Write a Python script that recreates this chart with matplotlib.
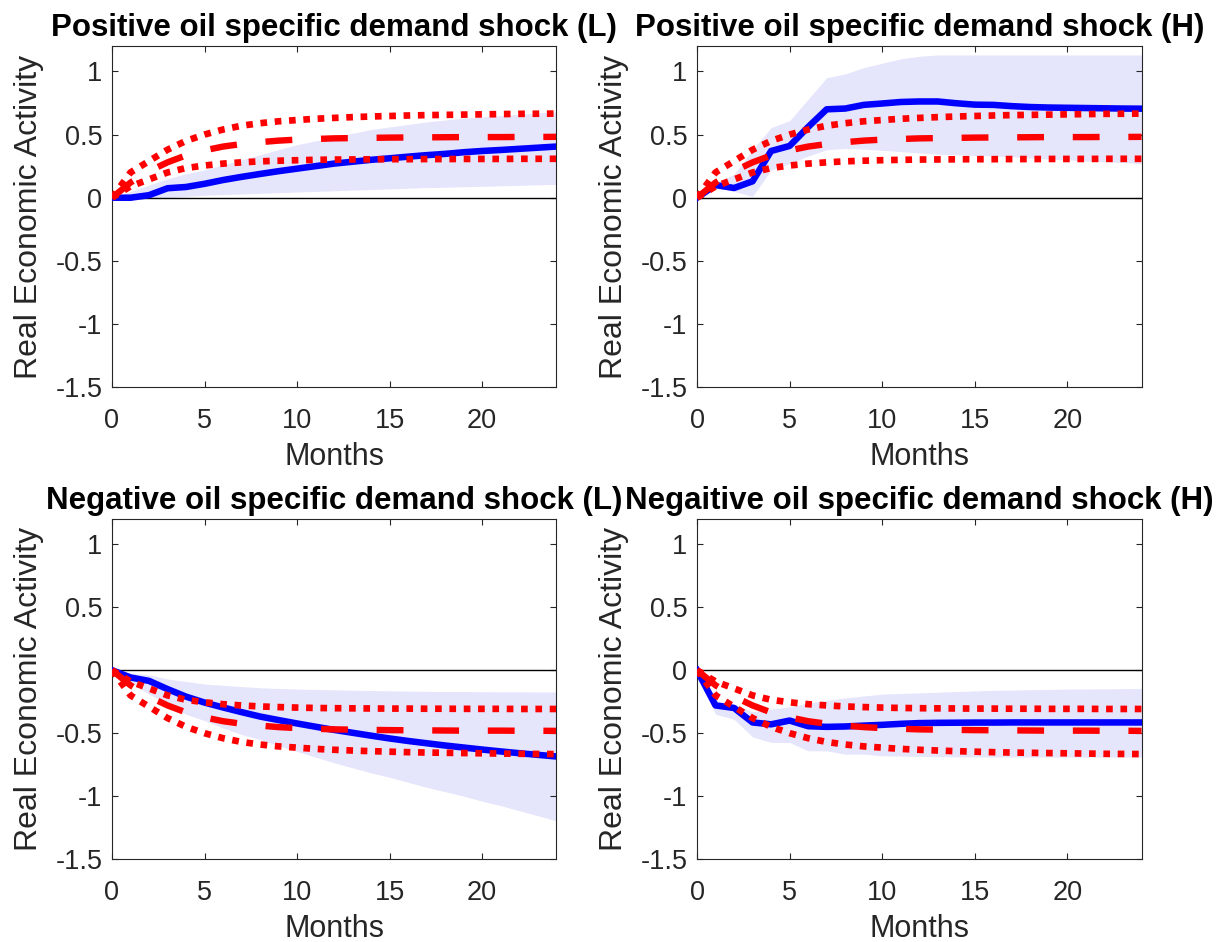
import numpy as np
import matplotlib
matplotlib.use('Agg')
import matplotlib.pyplot as plt

plt.rcParams['font.family'] = ['Liberation Sans', 'DejaVu Sans']

months = np.arange(25)

# linear benchmark (median and bands), same size for +/- shocks
red_med = [0, 0.12, 0.21, 0.28, 0.335, 0.375, 0.405, 0.425, 0.44, 0.452, 0.46, 0.465, 0.47,
           0.472, 0.474, 0.476, 0.477, 0.478, 0.479, 0.48, 0.48, 0.48, 0.481, 0.481, 0.482]
red_hi = [0, 0.20, 0.29, 0.38, 0.45, 0.50, 0.54, 0.57, 0.59, 0.605, 0.615, 0.625, 0.632,
          0.638, 0.643, 0.647, 0.651, 0.654, 0.656, 0.658, 0.66, 0.662, 0.664, 0.665, 0.666]
red_lo = [0, 0.09, 0.145, 0.20, 0.235, 0.255, 0.27, 0.28, 0.288, 0.293, 0.297, 0.30, 0.302,
          0.303, 0.304, 0.305, 0.305, 0.306, 0.306, 0.307, 0.307, 0.307, 0.308, 0.308, 0.308]

# positive shock, low regime
pl_resp = [0, 0.0, 0.02, 0.075, 0.085, 0.11, 0.14, 0.165, 0.188, 0.21, 0.23, 0.25, 0.27,
           0.285, 0.30, 0.312, 0.325, 0.337, 0.347, 0.36, 0.37, 0.378, 0.387, 0.396, 0.405]
pl_up = [0, 0.05, 0.10, 0.15, 0.19, 0.22, 0.26, 0.30, 0.34, 0.38, 0.42, 0.45, 0.48,
         0.51, 0.54, 0.56, 0.58, 0.60, 0.615, 0.63, 0.64, 0.65, 0.66, 0.67, 0.68]
pl_dn = [0, -0.01, -0.005, 0.0, 0.01, 0.02, 0.025, 0.03, 0.035, 0.04, 0.045, 0.05, 0.055,
         0.06, 0.065, 0.07, 0.075, 0.08, 0.083, 0.087, 0.09, 0.094, 0.098, 0.102, 0.106]

# positive shock, high regime
ph_resp = [0, 0.10, 0.077, 0.13, 0.37, 0.41, 0.56, 0.70, 0.706, 0.735, 0.746, 0.758, 0.762,
           0.762, 0.748, 0.737, 0.735, 0.725, 0.718, 0.714, 0.712, 0.71, 0.708, 0.706, 0.705]
ph_up = [0, 0.12, 0.185, 0.38, 0.555, 0.61, 0.78, 0.95, 0.98, 1.03, 1.065, 1.10, 1.12,
         1.13, 1.13, 1.13, 1.13, 1.13, 1.13, 1.13, 1.13, 1.13, 1.13, 1.13, 1.13]
ph_dn = [0, 0.08, 0.05, 0.01, 0.22, 0.27, 0.33, 0.38, 0.39, 0.385, 0.375, 0.365, 0.355,
         0.345, 0.34, 0.335, 0.33, 0.325, 0.315, 0.305, 0.30, 0.29, 0.285, 0.278, 0.27]

# negative shock, low regime
nl_resp = [0, -0.058, -0.085, -0.15, -0.21, -0.257, -0.296, -0.333, -0.368, -0.396, -0.423,
           -0.449, -0.474, -0.497, -0.52, -0.542, -0.562, -0.58, -0.598, -0.614, -0.63,
           -0.645, -0.659, -0.672, -0.685]
nl_up = [0, -0.024, -0.037, -0.07, -0.09, -0.11, -0.12, -0.13, -0.14, -0.145, -0.15, -0.153,
         -0.156, -0.159, -0.162, -0.164, -0.166, -0.168, -0.17, -0.17, -0.171, -0.172,
         -0.172, -0.173, -0.173]
nl_dn = [0, -0.10, -0.19, -0.27, -0.35, -0.40, -0.46, -0.51, -0.55, -0.60, -0.645, -0.69,
         -0.735, -0.775, -0.815, -0.85, -0.89, -0.93, -0.965, -1.0, -1.04, -1.075, -1.115,
         -1.155, -1.195]

# negative shock, high regime
nh_resp = [0, -0.28, -0.30, -0.415, -0.43, -0.40, -0.445, -0.45, -0.447, -0.44, -0.434,
           -0.426, -0.42, -0.418, -0.417, -0.416, -0.416, -0.415, -0.415, -0.415, -0.415,
           -0.415, -0.415, -0.415, -0.415]
nh_up = [0, -0.24, -0.27, -0.33, -0.31, -0.29, -0.26, -0.24, -0.22, -0.205, -0.19, -0.185,
         -0.18, -0.175, -0.17, -0.165, -0.16, -0.158, -0.155, -0.153, -0.15, -0.15, -0.148,
         -0.147, -0.145]
nh_dn = [0, -0.35, -0.39, -0.53, -0.574, -0.574, -0.64, -0.64, -0.667, -0.667, -0.68, -0.682,
         -0.685, -0.687, -0.688, -0.689, -0.69, -0.69, -0.69, -0.69, -0.69, -0.69, -0.69,
         -0.69, -0.69]

titles = ['Positive oil specific demand shock (L)', 'Positive oil specific demand shock (H)',
          'Negative oil specific demand shock (L)', 'Negaitive oil specific demand shock (H)']
panels = [(pl_resp, pl_up, pl_dn, 1), (ph_resp, ph_up, ph_dn, 1),
          (nl_resp, nl_up, nl_dn, -1), (nh_resp, nh_up, nh_dn, -1)]

# axes rectangles [left, bottom, width, height]
boxes = [[0.0912, 0.589, 0.3616, 0.362], [0.5676, 0.589, 0.362, 0.362],
         [0.0912, 0.088, 0.3616, 0.361], [0.5676, 0.088, 0.362, 0.361]]

fig = plt.figure(figsize=(12.28, 9.42), dpi=100)
gray = '#262626'

for k in range(4):
    resp, up, dn, sgn = panels[k]
    ax = fig.add_axes(boxes[k])
    ax.fill_between(months, dn, up, color='#e5e5fc', lw=0, zorder=1)
    ax.axhline(0, color='k', lw=1, zorder=2)
    ax.plot(months, resp, color='#0000ff', lw=4.7, zorder=3, solid_joinstyle='round')
    s = np.array([sgn])
    ax.plot(months, s * np.array(red_hi), color='#ff0000', lw=4.8,
            linestyle=(0, (1, 1.15)), dash_capstyle='butt', zorder=4)
    ax.plot(months, s * np.array(red_med), color='#ff0000', lw=4.6,
            linestyle=(0, (4.2, 4.5)), dash_capstyle='butt', zorder=4)
    ax.plot(months, s * np.array(red_lo), color='#ff0000', lw=4.8,
            linestyle=(0, (1, 1.15)), dash_capstyle='butt', zorder=4)
    ax.set_xlim(0, 24)
    ax.set_ylim(-1.5, 1.2)
    ax.set_xticks([0, 5, 10, 15, 20])
    ax.set_yticks([-1.5, -1, -0.5, 0, 0.5, 1])
    ax.set_yticklabels(['-1.5', '-1', '-0.5', '0', '0.5', '1'])
    ax.tick_params(direction='in', length=4, width=0.8, top=True, right=True,
                   labelsize=19.5, colors=gray)
    ax.tick_params(axis='x', pad=15)
    ax.tick_params(axis='y', pad=7)
    for sp in ax.spines.values():
        sp.set_color(gray)
        sp.set_linewidth(0.8)
    ax.set_xlabel('Months', fontsize=22, color=gray, labelpad=6)
    ax.set_ylabel('Real Economic Activity', fontsize=23, color=gray, labelpad=8)
    ax.set_title(titles[k], fontsize=22.5, fontweight='bold', pad=7)

plt.savefig('out.png', dpi=100)
